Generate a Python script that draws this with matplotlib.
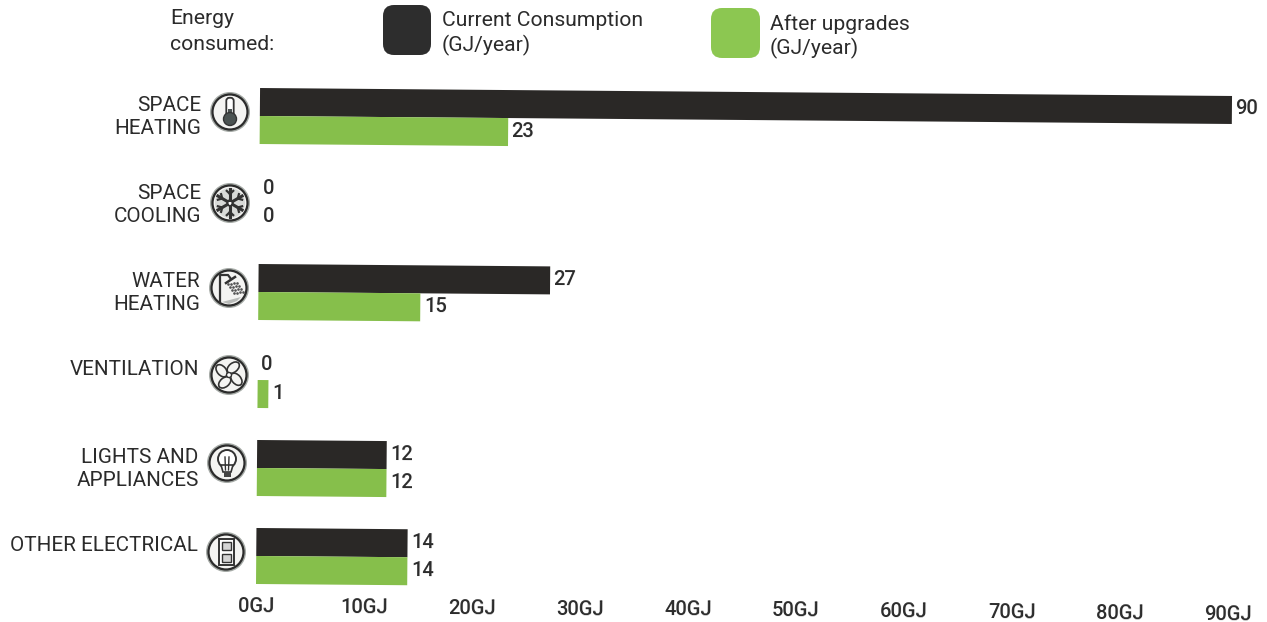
import numpy as np
import matplotlib
matplotlib.use("Agg")
import matplotlib.pyplot as plt
from matplotlib.patches import Circle, Ellipse, FancyBboxPatch, Polygon, Rectangle
from matplotlib.transforms import Affine2D

categories = ["SPACE\nHEATING", "SPACE\nCOOLING", "WATER\nHEATING", "VENTILATION\n ",
              "LIGHTS AND\nAPPLIANCES", "OTHER ELECTRICAL\n "]
current = [90, 0, 27, 0, 12, 14]
after = [23, 0, 15, 1, 12, 14]
ticks = [0, 10, 20, 30, 40, 50, 60, 70, 80, 90]
tick_labels = [f"{t}GJ" for t in ticks]

W, H = 1267, 622
DARK = "#2a2826"
GREEN = "#86bf4b"
TEXT = "#2b2b2b"
FONT = "Roboto"
ANGLE = -0.47
plt.rcParams["font.family"] = FONT

fig = plt.figure(figsize=(W / 100, H / 100), dpi=100, facecolor="white")
L, R, T, B = 258, 1250, 80, 590
ax = fig.add_axes([L / W, 1 - B / H, (R - L) / W, (B - T) / H])
ax.set_xlim(0, (R - L) / 10.8)
ax.set_ylim((B - 116) / 88, (T - 116) / 88)
ax.patch.set_alpha(0)
for s in ax.spines.values():
    s.set_visible(False)

rot = Affine2D().rotate_deg_around(L, H - 340, ANGLE)
tr = ax.transData + rot
y = np.arange(len(categories))
h = 28 / 88
b1 = ax.barh(y - h / 2, current, height=h, color=DARK)
b2 = ax.barh(y + h / 2, after, height=h, color=GREEN)
for bars in (b1, b2):
    for p in bars:
        p.set_transform(tr)
        p.set_clip_on(False)
for vals, sign in ((current, -1), (after, 1)):
    for yy, v in zip(y, vals):
        ax.text(v + 0.34, yy + sign * h / 2 - 0.012, str(v), transform=tr, ha="left", va="center",
                fontsize=14.5, fontweight="medium", color=TEXT, rotation=ANGLE,
                rotation_mode="anchor", clip_on=False)

ax.set_xticks(ticks)
ax.set_xticklabels(tick_labels, fontsize=14.5, fontweight="medium", color=TEXT, rotation=ANGLE)
ax.set_yticks(y)
ax.set_yticklabels(categories, fontsize=14.9, color=TEXT, linespacing=1.27, ha="right")
ax.tick_params(axis="x", length=0, pad=5)
ax.tick_params(axis="y", length=0, pad=42)
label_lift = Affine2D().translate(0, 3)
for t in ax.get_xticklabels():
    t.set_transform(t.get_transform() + rot)
for t in ax.get_yticklabels():
    t.set_transform(t.get_transform() + rot + label_lift)

# overlay in pixel coordinates for legend and pictograms
ov = fig.add_axes([0, 0, 1, 1], zorder=3)
ov.set_xlim(0, W)
ov.set_ylim(H, 0)
ov.axis("off")
ov.patch.set_alpha(0)


def legend_box(x0, y0, w, hh, color):
    ov.add_patch(FancyBboxPatch((x0 + 9, y0 + 9), w - 18, hh - 18,
                                boxstyle="round,pad=9,rounding_size=11",
                                fc=color, ec="none"))


legend_box(383, 5, 48, 50, "#2d2d2d")
legend_box(711, 8, 49, 50, "#8cc751")
for x, yy, s in [(170, 19, "Energy"), (170, 44, "consumed:"),
                 (442, 21, "Current Consumption"), (442, 45, "(GJ/year)"),
                 (770, 24, "After upgrades"), (770, 48, "(GJ/year)")]:
    ov.text(x, yy, s, fontsize=15.2, color=TEXT, va="center", ha="left")


def ring(cx, cy):
    ov.add_patch(Circle((cx, cy), 20, fc="#a5aaa6", ec="none"))
    ov.add_patch(Circle((cx, cy), 17.5, fc="#f4f4f2", ec="#2b2b2b", lw=1.6))


def thermometer(cx, cy):
    ring(cx, cy)
    ov.add_patch(FancyBboxPatch((cx - 2.5, cy - 13), 5, 18, boxstyle="round,pad=1.2,rounding_size=3",
                                fc="white", ec="#333333", lw=1.3))
    ov.add_patch(Rectangle((cx - 2, cy - 3), 4, 8, fc="#4b5352", ec="none"))
    ov.add_patch(Circle((cx, cy + 7), 6.5, fc="#4b5352", ec="#333333", lw=1))


def snowflake(cx, cy):
    ring(cx, cy)
    ov.add_patch(Circle((cx, cy), 15, fc="#d8dad8", ec="none"))
    for a in np.deg2rad(np.arange(0, 360, 60) + 90):
        dx, dy = np.cos(a), np.sin(a)
        ov.plot([cx + 3 * dx, cx + 14 * dx], [cy + 3 * dy, cy + 14 * dy], color="#333333", lw=2.2)
        for s in (-1, 1):
            b = a + s * 0.8
            mx, my = cx + 9 * dx, cy + 9 * dy
            ov.plot([mx, mx + 4.5 * np.cos(b)], [my, my + 4.5 * np.sin(b)], color="#333333", lw=1.6)
    ov.add_patch(Circle((cx, cy), 3, fc="white", ec="#333333", lw=1))


def shower(cx, cy):
    ring(cx, cy)
    ov.plot([cx - 9, cx - 9, cx - 1, cx + 2], [cy + 15, cy - 13, cy - 13, cy - 9], color="#333333", lw=1.6)
    ov.plot([cx - 3, cx + 6], [cy - 5, cy - 11], color="#333333", lw=1.8)
    for i in range(4):
        for j in range(4):
            ov.plot(cx + i * 3 + j * 2 - 1, cy - 4 + j * 3 - i * 0.5, ".", ms=1.8, color="#555555")
    ov.add_patch(Polygon([(cx - 7, cy + 14), (cx + 12, cy + 9), (cx + 8, cy + 13), (cx, cy + 16)],
                         fc="#b9bbb9", ec="none"))


def fan(cx, cy):
    ring(cx, cy)
    for a in (30, 120, 210, 300):
        r = np.deg2rad(a)
        ov.add_patch(Ellipse((cx + 8.5 * np.cos(r), cy + 8.5 * np.sin(r)), 14, 9, angle=a + 20,
                             fc="#f4f4f2", ec="#333333", lw=1.2))
    ov.add_patch(Circle((cx, cy), 2.5, fc="white", ec="#333333", lw=1))


def bulb(cx, cy):
    ring(cx, cy)
    ov.add_patch(Circle((cx, cy - 4), 9, fc="white", ec="#333333", lw=1.4))
    ov.add_patch(Polygon([(cx - 6, cy + 2), (cx + 6, cy + 2), (cx + 4, cy + 9), (cx - 4, cy + 9)],
                         fc="white", ec="#333333", lw=1.2))
    ov.add_patch(Rectangle((cx - 3.5, cy + 9), 7, 5, fc="#444444", ec="none"))
    ov.plot([cx - 2, cx - 1.5], [cy - 6, cy + 7], color="#333333", lw=1)
    ov.plot([cx + 2, cx + 1.5], [cy - 6, cy + 7], color="#333333", lw=1)


def outlet(cx, cy):
    ring(cx, cy)
    ov.add_patch(Rectangle((cx - 7.5, cy - 13), 15, 26, fc="white", ec="#333333", lw=1.4))
    for dy in (-6, 6):
        ov.add_patch(Rectangle((cx - 4.5, cy + dy - 4), 9, 8, fc="#d5d5d5", ec="#333333", lw=1))


thermometer(230, 112)
snowflake(230, 203)
shower(229, 288)
fan(229, 375)
bulb(227, 463)
outlet(226, 552)

fig.savefig("out.png", dpi=100, facecolor="white")
